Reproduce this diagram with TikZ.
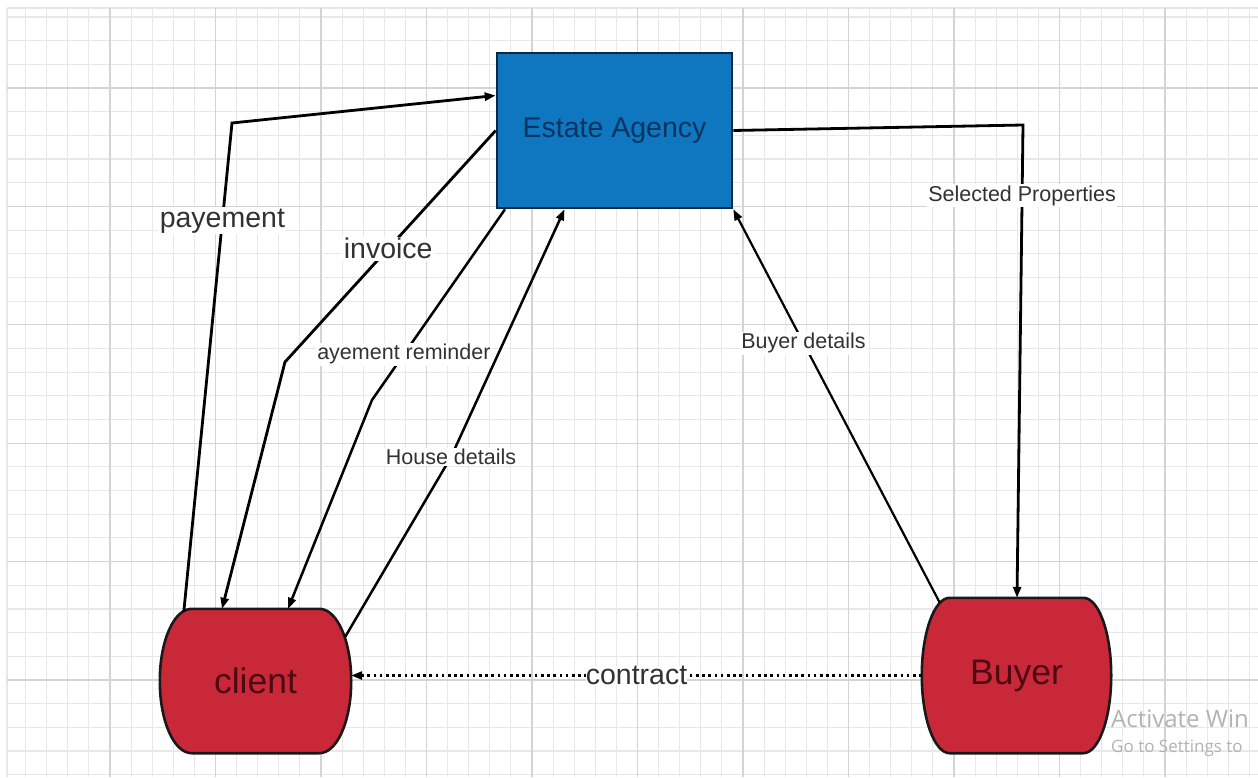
\documentclass[tikz,border=0pt]{standalone}
\usepackage{fontspec}
\setmainfont{Liberation Sans}
\newfontfamily\winfont{Open Sans}
\usetikzlibrary{arrows.meta,backgrounds}

\definecolor{agencyblue}{RGB}{14,119,192}
\definecolor{agencyline}{RGB}{10,38,70}
\definecolor{agencytext}{RGB}{12,52,98}
\definecolor{actorred}{RGB}{200,40,56}
\definecolor{actortext}{RGB}{78,10,18}
\definecolor{labeltext}{RGB}{50,50,50}

\tikzset{
  minorgrid/.style={line width=1.1pt,color=black!9},
  majorgrid/.style={line width=1.3pt,color=black!17},
  agency/.style={draw=agencyline,line width=2.6pt,fill=agencyblue,text=agencytext,
    minimum width=235pt,minimum height=155pt,font=\fontsize{28.5}{32}\selectfont},
  actor/.style={inner sep=0pt,text=actortext,font=\fontsize{35.5}{40}\selectfont},
  actorline/.style={draw=black!90,line width=2.6pt,fill=actorred},
  flow/.style={line width=2.8pt,line join=miter,-{Triangle[length=11pt,width=8pt]}},
  thinflow/.style={flow,line width=2.2pt},
  lbl/.style={fill=white,inner sep=1.5pt,text=labeltext,font=\fontsize{#1}{#1}\selectfont},
  lbl/.default=21.5
}

% outline of a client/buyer box: flat top and bottom, elliptic sides
% #2 = side bulge, #3 = its control offset, #4 = vertical control offset
\newcommand\actorpath[4]{%
  \path[actorline] ([xshift=#2pt]#1.north west) -- ([xshift=-#2pt]#1.north east)
    .. controls ([xshift=-#3pt]#1.north east) and ([yshift=#4pt]#1.east) .. (#1.east)
    .. controls ([yshift=-#4pt]#1.east) and ([xshift=-#3pt]#1.south east) .. ([xshift=-#2pt]#1.south east)
    -- ([xshift=#2pt]#1.south west)
    .. controls ([xshift=#3pt]#1.south west) and ([yshift=-#4pt]#1.west) .. (#1.west)
    .. controls ([yshift=#4pt]#1.west) and ([xshift=#3pt]#1.north west) .. cycle;}

\begin{document}
\begin{tikzpicture}[x=1pt,y=-1pt]
  \useasboundingbox (0,0) rectangle (1258,778);
  % background grid
  \begin{scope}[on background layer]
  \foreach \i in {1,...,59}
    \draw[minorgrid] ({4.5+21.1*\i},8) -- ({4.5+21.1*\i},777);
  \foreach \j in {0,...,32}
    \draw[minorgrid] (7,{16.96+23.68*\j}) -- (1258,{16.96+23.68*\j});
  \draw[minorgrid] (7,8) -- (1258,8);
  \draw[minorgrid] (7,8) -- (7,777);
  \foreach \k in {0,...,10}
    \draw[majorgrid] ({110+105.5*\k},8) -- ({110+105.5*\k},777);
  \foreach \k in {0,...,5}
    \draw[majorgrid] (7,{88+118.4*\k}) -- (1258,{88+118.4*\k});
  \end{scope}

  % entities
  \node[agency] (agency) at (614.5,130.5) {Estate Agency};
  \node[actor,minimum width=191pt,minimum height=144pt] (client) at (255.5,681) {client};
  \node[actor,minimum width=189pt,minimum height=155pt] (buyer) at (1016.5,675.5) {Buyer};
  \begin{scope}[on background layer]
    \actorpath{client}{32}{14}{40}
    \actorpath{buyer}{28}{12.5}{43}
  \end{scope}

  % bends
  \coordinate (payBend) at (232,123);
  \coordinate (invBend) at (285,362);
  \coordinate (remBend) at (372,400);
  \coordinate (houseBend) at (451,457);
  \coordinate (selBend) at (1023,125);

  % flows
  \draw[flow] ([xshift=24pt,yshift=-3pt]client.north west) -- node[lbl=28.5,pos=0.8] {payement} (payBend)
    -- ([yshift=35pt]agency.west);
  \draw[flow] (agency.west) -- node[lbl=28.5,pos=0.51] {invoice} (invBend)
    -- ([xshift=-33.5pt]client.north);
  \draw[flow,line width=2.5pt] ([xshift=-109.5pt]agency.south) -- node[lbl,pos=0.76] {ayement reminder} (remBend)
    -- ([xshift=32.5pt]client.north);
  \draw[thinflow,line width=2.5pt] ([xshift=-6pt,yshift=-28pt]client.north east)
    -- (houseBend) -- ([xshift=-50pt]agency.south);
  \node[lbl] (houseLbl) at (houseBend) {House details};
  \draw[thinflow] ([xshift=18pt,yshift=-5pt]buyer.north west)
    -- node[lbl,pos=0.66] {Buyer details} (agency.south east);
  \draw[flow] (agency.east) -- (selBend)
    -- node[lbl,pos=0.15] {Selected Properties} ([xshift=0.5pt]buyer.north);
  \draw[line width=2.6pt,dash pattern=on 2.6pt off 3.6pt,-{Triangle[length=11pt,width=8pt]}]
    (buyer.west) -- node[lbl=28.5,inner sep=0pt] {contract} (client.east |- buyer.west);

  % watermark
  \node[anchor=west,inner sep=0pt,text=black!30,font=\winfont\fontsize{24}{28}\selectfont] (winA) at (1111,719) {Activate Win};
  \node[anchor=west,inner sep=0pt,text=black!30,font=\winfont\fontsize{17}{20}\selectfont] (winB) at (1111,748) {Go to Settings to};
\end{tikzpicture}
\end{document}
